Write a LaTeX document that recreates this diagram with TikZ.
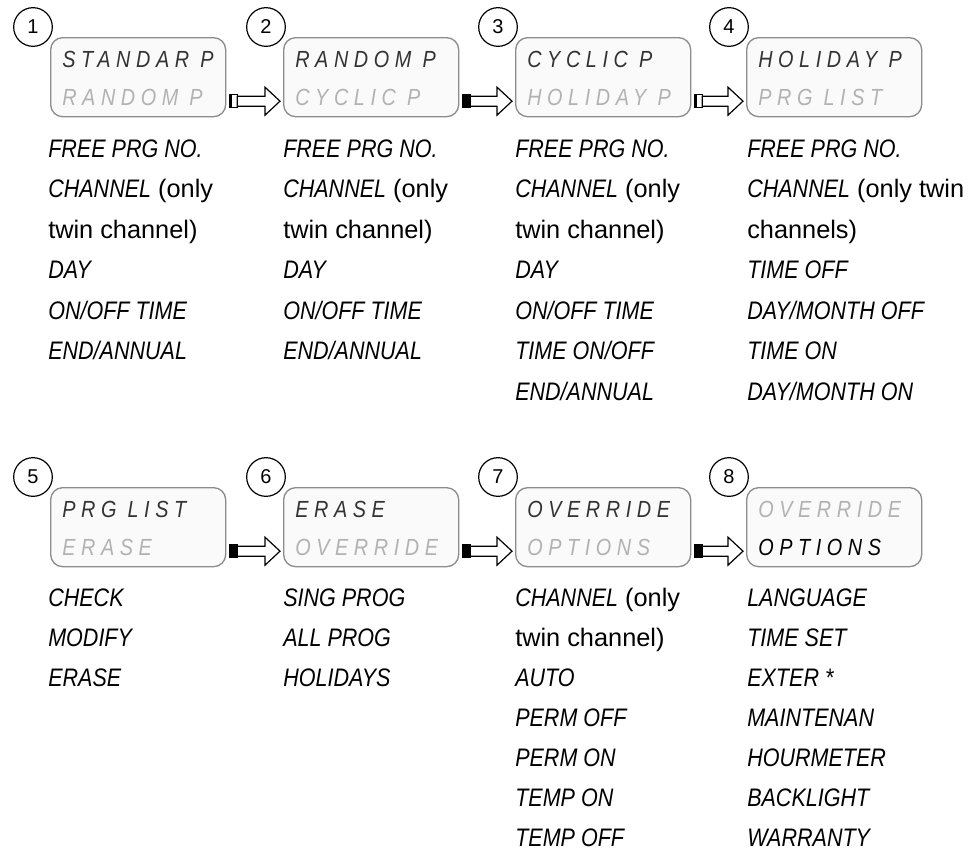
\documentclass[tikz,border=0pt]{standalone}
\usepackage{fontspec}
\setmainfont{Liberation Sans}
\newfontfamily\lcdfont[FakeStretch=0.85]{Liberation Sans}
\newfontfamily\lcdboxfont[FakeStretch=0.85, LetterSpace=24]{Liberation Sans}
\usetikzlibrary{calc}
\newcommand\lcd[1]{{\lcdfont\itshape #1}}
% flecha hueca entre dos pantallas, con su cola (blanca o negra)
\newcommand\flecha[3]{%
  \path (#1.east) ++(3,24) coordinate (s);
  \path (#2.west) ++(-3,24) coordinate (e);
  \filldraw[fill=#3, line width=0.9pt] ($(s)+(0,-6.5)$) rectangle ($(s)+(8,6.5)$);
  \fill[black] ($(s)+(0,-6.5)$) rectangle ($(s)+(3,6.5)$);
  \filldraw[fill=white, line width=0.9pt, line join=miter]
    ($(s)+(8,-5)$) -- ($(e)+(-15,-5)$) -- ($(e)+(-15,-14)$) -- (e)
    -- ($(e)+(-15,14)$) -- ($(e)+(-15,5)$) -- ($(s)+(8,5)$) -- cycle;
}
\tikzset{
  pantalla/.style={draw=black!45, line width=1pt, fill=black!2, rounded corners=9pt,
    minimum width=131.25pt, minimum height=59.25pt, anchor=north west, inner sep=0},
  numero/.style={circle, draw, line width=0.9pt, minimum size=29pt, inner sep=0,
    font=\fontsize{15}{15}\selectfont},
  linea/.style={anchor=base west, inner sep=0,
    font=\lcdboxfont\itshape\fontsize{17.5}{17.5}\selectfont},
  elemento/.style={anchor=base west, inner sep=0, font=\fontsize{19}{19}\selectfont},
}
\begin{document}
\begin{tikzpicture}[x=0.75pt, y=-0.75pt]
  \useasboundingbox (0,0) rectangle (975,854);
  % las ocho pantallas, con su numero y sus dos lineas
  \foreach \n/\x/\y/\a/\b/\ca/\cb in {
      1/50/37/STANDAR P/RANDOM P/black!80/black!30,
      2/283/37/RANDOM P/CYCLIC P/black!80/black!30,
      3/515/37/CYCLIC P/HOLIDAY P/black!80/black!30,
      4/746/37/HOLIDAY P/PRG LIST/black!80/black!30,
      5/50/487/PRG LIST/ERASE/black!80/black!30,
      6/283/487/ERASE/OVERRIDE/black!80/black!30,
      7/515/487/OVERRIDE/OPTIONS/black!80/black!30,
      8/746/487/OVERRIDE/OPTIONS/black!30/black} {
    \node[pantalla] (p\n) at (\x,\y) {};
    \node[numero, fill=white] (n\n) at (\x-17,\y-10) {\n};
    \node[linea, text=\ca] (p\n a) at ([shift={(12,30)}]p\n.north west) {\a};
    \node[linea, text=\cb] (p\n b) at ([shift={(12,68)}]p\n.north west) {\b};
  }
  % las flechas de una pantalla a la siguiente
  \flecha{p1}{p2}{white}
  \flecha{p2}{p3}{black}
  \flecha{p3}{p4}{white}
  \flecha{p5}{p6}{black}
  \flecha{p6}{p7}{black}
  \flecha{p7}{p8}{black}
  % las listas de arriba
  \foreach \t [count=\i] in {\lcd{FREE PRG NO.}, \lcd{CHANNEL} (only, twin channel),
      \lcd{DAY}, \lcd{ON/OFF TIME}, \lcd{END/ANNUAL}}
    \node[elemento] (a1-\i) at (48,157+40.5*\i-40.5) {\t};
  \foreach \t [count=\i] in {\lcd{FREE PRG NO.}, \lcd{CHANNEL} (only, twin channel),
      \lcd{DAY}, \lcd{ON/OFF TIME}, \lcd{END/ANNUAL}}
    \node[elemento] (a2-\i) at (283,157+40.5*\i-40.5) {\t};
  \foreach \t [count=\i] in {\lcd{FREE PRG NO.}, \lcd{CHANNEL} (only, twin channel),
      \lcd{DAY}, \lcd{ON/OFF TIME}, \lcd{TIME ON/OFF}, \lcd{END/ANNUAL}}
    \node[elemento] (a3-\i) at (515,157+40.5*\i-40.5) {\t};
  \foreach \t [count=\i] in {\lcd{FREE PRG NO.}, \lcd{CHANNEL} (only twin, channels),
      \lcd{TIME OFF}, \lcd{DAY/MONTH OFF}, \lcd{TIME ON}, \lcd{DAY/MONTH ON}}
    \node[elemento] (a4-\i) at (747,157+40.5*\i-40.5) {\t};
  % las listas de abajo
  \foreach \t [count=\i] in {\lcd{CHECK}, \lcd{MODIFY}, \lcd{ERASE}}
    \node[elemento] (b1-\i) at (48,606+40*\i-40) {\t};
  \foreach \t [count=\i] in {\lcd{SING PROG}, \lcd{ALL PROG}, \lcd{HOLIDAYS}}
    \node[elemento] (b2-\i) at (283,606+40*\i-40) {\t};
  \foreach \t [count=\i] in {\lcd{CHANNEL} (only, twin channel), \lcd{AUTO},
      \lcd{PERM OFF}, \lcd{PERM ON}, \lcd{TEMP ON}, \lcd{TEMP OFF}}
    \node[elemento] (b3-\i) at (515,606+40*\i-40) {\t};
  \foreach \t [count=\i] in {\lcd{LANGUAGE}, \lcd{TIME SET}, \lcd{EXTER *},
      \lcd{MAINTENAN}, \lcd{HOURMETER}, \lcd{BACKLIGHT}, \lcd{WARRANTY}}
    \node[elemento] (b4-\i) at (747,606+40*\i-40) {\t};
\end{tikzpicture}
\end{document}
